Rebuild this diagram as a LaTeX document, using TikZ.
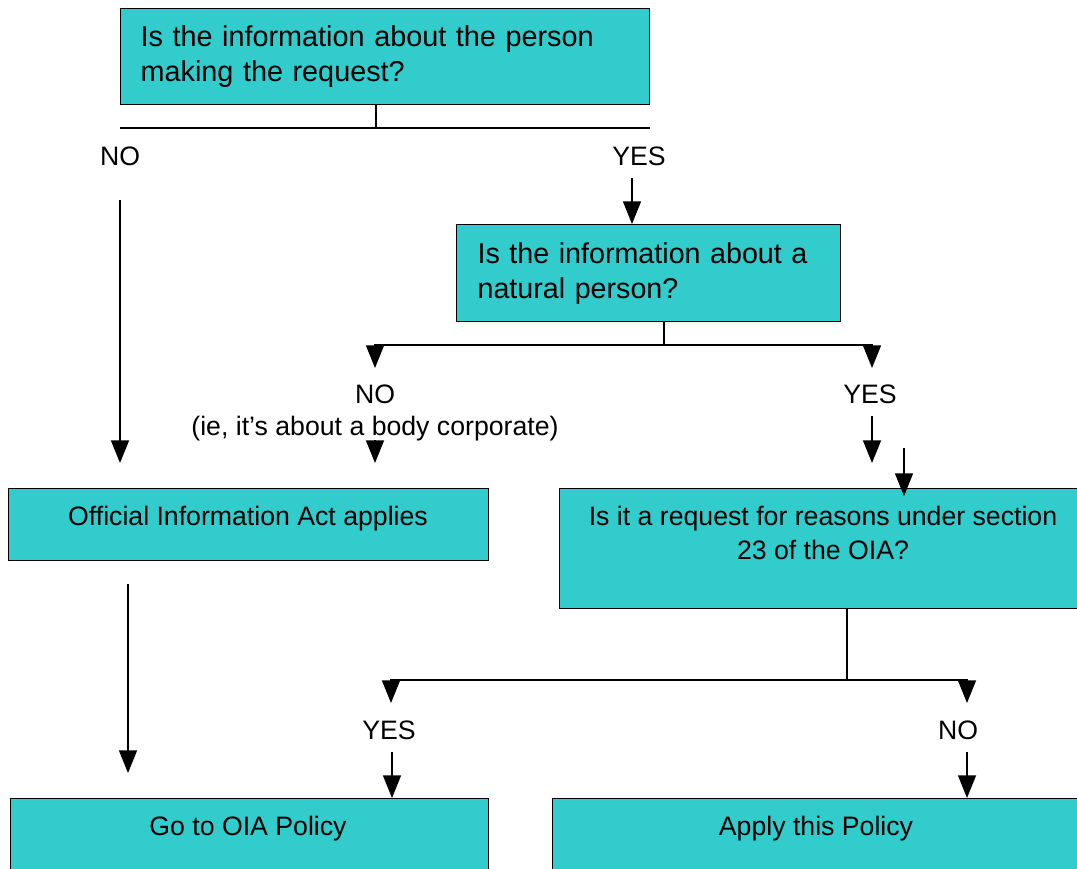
\documentclass[tikz,border=0pt]{standalone}
\usepackage{fontspec}
\setmainfont{Liberation Sans}
\usetikzlibrary{arrows.meta}
\definecolor{boxfill}{RGB}{51,204,204}
\begin{document}
\begin{tikzpicture}[x=0.75pt,y=-0.75pt,
    box/.style={draw=black, line width=0.9pt, fill=boxfill, anchor=north west, inner sep=0pt},
    lbl/.style={font=\fontsize{20}{23}\selectfont, align=center, inner sep=0pt},
    line/.style={line width=1.1pt},
    arr/.style={line width=1.1pt, -{Triangle[width=13.5pt,length=17pt]}}]
    \useasboundingbox (0,0) rectangle (1077,868);
    \clip (0,0) rectangle (1077,868);

    % boxes (pixel grid of the page, y downwards)
    \node[box, minimum width=396.75pt, minimum height=72pt, inner xsep=15pt, text width=366.75pt,
          align=left, font=\fontsize{21.6}{26.25}\selectfont] (q1) at (120,8)
          {Is the information about the person\\making the request?};
    \node[box, minimum width=288pt, minimum height=72.75pt, inner xsep=15.75pt, text width=256.5pt,
          align=left, font=\fontsize{21.5}{26.25}\selectfont] (q2) at (456,224)
          {Is the information about a\\natural person?};
    \node[box, minimum width=360pt, minimum height=54pt] (oia) at (8,488) {};
    \node[box, minimum width=405.75pt, minimum height=90pt] (q3) at (559,488) {};
    \node[box, minimum width=358.5pt, minimum height=75pt] (gto) at (10,798) {};
    \node[box, minimum width=420pt, minimum height=75pt] (apply) at (552,798) {};

    \node[lbl] (oiat) at (248,519) {Official Information Act applies};
    \node[lbl, font=\fontsize{20}{25.5}\selectfont] (q3t) at (823,533)
          {Is it a request for reasons under section\\23 of the OIA?};
    \node[lbl] (gtot) at (248,829) {Go to OIA Policy};
    \node[lbl] (applyt) at (816,829) {Apply this Policy};

    % answers
    \node[lbl] (no1) at (120,156) {NO};
    \node[lbl] (yes1) at (639,156) {YES};
    \node[lbl, font=\fontsize{20}{23.5}\selectfont] (no2) at (375,413) {NO\\(ie, it’s about a body corporate)};
    \node[lbl] (yes2) at (870,394) {YES};
    \node[lbl] (yes3) at (389,730) {YES};
    \node[lbl] (no3) at (958,730) {NO};

    \foreach \n/\x/\y in {s1/376/128, s2/664/345, s3/847/680,
        a/632/178, b/120/200, bt/120/463, n2/375/368, y2/872/368,
        c/375/440, ct/375/463, d/872/416, dt/872/463, e/904/448,
        f/128/584, ft/128/773, n3/391/703, y3/967/703, g/392/752, h/967/752}
        \coordinate (\n) at (\x,\y);

    % first question
    \draw[line] (q1.south -| s1) -- (s1);
    \draw[line] (q1.south west |- s1) -- (q1.south east |- s1);
    \draw[arr] (a) -- (a |- q2.north);
    \draw[arr] (b) -- (bt);

    % second question
    \draw[line] (q2.south -| s2) -- (s2);
    \draw[arr] (s2) -| (n2);
    \draw[arr] (s2) -| (y2);
    \draw[arr] (c) -- (ct);
    \draw[arr] (d) -- (dt);
    \draw[arr] (e) -- ([yshift=-6pt]e |- q3.north);
    \draw[arr] (f) -- (ft);

    % third question
    \draw[line] (q3.south -| s3) -- (s3);
    \draw[arr] (s3) -| (n3);
    \draw[arr] (s3) -| (y3);
    \draw[arr] (g) -- (g |- gto.north);
    \draw[arr] (h) -- (h |- apply.north);
\end{tikzpicture}
\end{document}
